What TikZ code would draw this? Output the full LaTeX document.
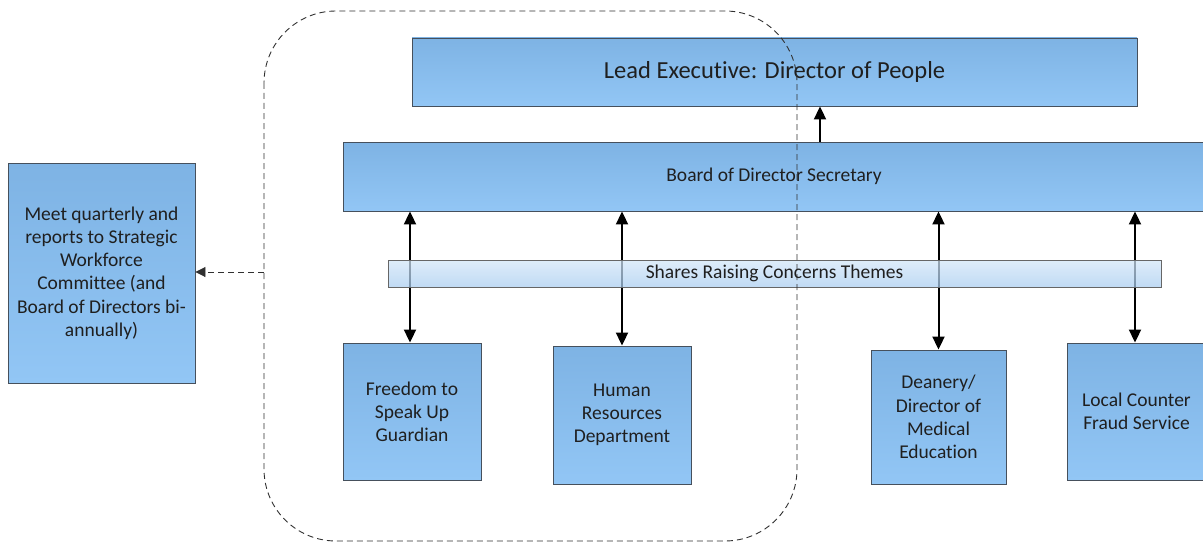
\documentclass[tikz,border=0pt]{standalone}
\usepackage{fontspec}
\setmainfont{Carlito}[Ligatures=NoCommon]
\usetikzlibrary{arrows.meta}
\definecolor{boxtop}{HTML}{7EB3E4}
\definecolor{boxbot}{HTML}{92C6F5}
\definecolor{boxline}{HTML}{46505C}
\definecolor{bartop}{HTML}{D2E6F8}
\definecolor{barbot}{HTML}{A8CCF0}
\definecolor{dashline}{HTML}{303030}
\tikzset{
  orgbox/.style={draw=boxline, line width=0.9pt, top color=boxtop, bottom color=boxbot,
    shading angle=0, align=center, inner sep=2pt, text=black!88, font=\fontsize{19.5}{23.2}\selectfont},
  themebar/.style={draw=gray!80!black, line width=0.8pt, top color=bartop, bottom color=barbot,
    fill opacity=0.72, text opacity=1, text=black!88, font=\fontsize{19.5}{23}\selectfont},
  link/.style={line width=2pt, -{Triangle[length=13pt,width=12pt]}},
  twoway/.style={line width=2pt, {Triangle[length=13pt,width=12pt]}-{Triangle[length=13pt,width=12pt]}},
  groupline/.style={dash pattern=on 6pt off 4pt, draw=dashline, line width=0.9pt},
}
\begin{document}
\begin{tikzpicture}[x=1pt, y=-1pt]
\useasboundingbox (0,0) rectangle (1203,543);

% upper level
\node[orgbox, minimum width=725pt, minimum height=68pt, font=\fontsize{24.5}{28}\selectfont]
  (lead) at (774.5,72) {Lead Executive: Director of People};
\node[orgbox, minimum width=862pt, minimum height=69pt] (board) at (774,176.5) {Board of Director Secretary};

% reporting box on the left
\node[orgbox, minimum width=187pt, minimum height=220pt] (report) at (101.5,273)
  {Meet quarterly and\\reports to Strategic\\Workforce\\Committee (and\\Board of Directors bi-\\annually)};

% contributing services
\node[orgbox, minimum width=138pt, minimum height=137pt] (ftsu) at (412,411.5) {Freedom to\\Speak Up\\Guardian};
\node[orgbox, minimum width=138pt, minimum height=138pt] (hr) at (622,415) {Human\\Resources\\Department};
\node[orgbox, minimum width=135pt, minimum height=134pt] (dme) at (938.5,417) {Deanery/\\Director of\\Medical\\Education};
\node[orgbox, minimum width=139pt, minimum height=137pt] (lcfs) at (1136.5,411.5) {Local Counter\\Fraud Service};

% connectors
\draw[link] (board.north -| 820,0) -- (lead.south -| 820,0);
\draw[twoway] (board.south -| 410,0) -- (ftsu.north -| 410,0);
\draw[twoway] (board.south -| hr.north) -- (hr.north);
\draw[twoway] (board.south -| dme.north) -- (dme.north);
\draw[twoway] (board.south -| 1135,0) -- (lcfs.north -| 1135,0);

% shared themes bar laid over the links
\node[themebar, minimum width=773pt, minimum height=27pt] (themes) at (774.5,273.5) {Shares Raising Concerns Themes};

% group outline and its report line
\draw[groupline, rounded corners=72pt] (264,11) rectangle (797,541);
\coordinate (grpleft) at (264,272);
\draw[groupline, -{Triangle[length=10pt,width=10pt]}] (grpleft) -- (report.east |- grpleft);
\end{tikzpicture}
\end{document}
